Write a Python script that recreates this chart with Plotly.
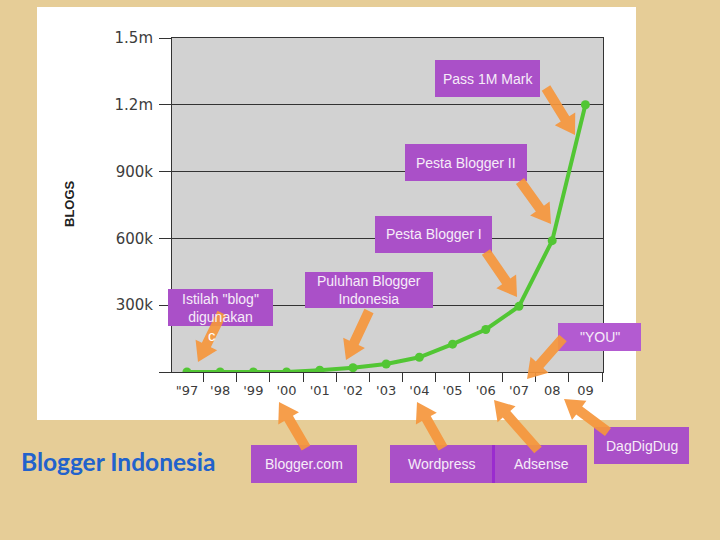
import math
import plotly.graph_objects as go

# ---------------- data ----------------
years = ["1997", "1998", "1999", "2000", "2001", "2002", "2003",
         "2004", "2005", "2006", "2007", "2008", "2009"]
year_labels = ['"97', "'98", "'99", "'00", "'01", "'02", "'03",
               "'04", "'05", "'06", "'07", "08", "09"]
blogs = [0, 0, 0, 0, 8000, 19000, 36000, 66000, 125000, 191000,
         295000, 590000, 1200000]
y_ticks = [0, 300000, 600000, 900000, 1200000, 1500000]
y_tick_labels = ["", "300k", "600k", "900k", "1.2m", "1.5m"]

# ---------------- layout geometry (pixels) ----------------
W, H = 720, 540
L, R, T, B = 172, 603, 38, 372  # plot area


def px(x):
    return (x - L) / (R - L)


def py(y):
    return (B - y) / (B - T)


BEIGE = "#e6cd97"
PURPLE = "#aa50c8"
ORANGE = "#f5963c"
GREEN = "#52c634"
TXT = "#f6ecf8"
AXTXT = "#3c3c3c"

fig = go.Figure()
fig.add_trace(go.Scatter(
    x=years, y=blogs, mode="lines+markers",
    line=dict(color=GREEN, width=4),
    marker=dict(color=GREEN, size=9),
    hoverinfo="skip", showlegend=False,
))

shapes = []
# white panel and gray plot background
shapes.append(dict(type="rect", xref="paper", yref="paper", layer="below",
                   x0=px(37), x1=px(636), y0=py(420), y1=py(7),
                   fillcolor="white", line=dict(width=0)))
shapes.append(dict(type="rect", xref="paper", yref="paper", layer="below",
                   x0=0, x1=1, y0=0, y1=1,
                   fillcolor="#d2d2d2", line=dict(width=0)))

# label boxes: (text, x0, x1, y0, y1, color, text_y)
boxes = [
    ("Pass 1M Mark", 435, 540, 60, 97, PURPLE, None),
    ("Pesta Blogger II", 405, 527, 144, 181, PURPLE, None),
    ("Pesta Blogger I", 375, 492, 216, 253, PURPLE, None),
    ("Puluhan Blogger<br>Indonesia", 305, 433, 272, 308, PURPLE, 290),
    ("Istilah \"blog\"<br>digunakan", 168, 273, 289, 326, PURPLE, 308),
    ("\"YOU\"", 558, 641, 323, 351, "#b35bd1", None),
    ("Blogger.com", 251, 357, 445, 483, PURPLE, None),
    ("Wordpress", 390, 492, 445, 483, PURPLE, None),
    ("Adsense", 495, 587, 445, 483, PURPLE, None),
    ("DagDigDug", 594, 689, 427, 464, PURPLE, None),
]
for text, x0, x1, y0, y1, col, ty in boxes:
    shapes.append(dict(type="rect", xref="paper", yref="paper", layer="above",
                       x0=px(x0), x1=px(x1), y0=py(y1), y1=py(y0),
                       fillcolor=col, line=dict(width=0)))
# divider between Wordpress and Adsense
shapes.append(dict(type="rect", xref="paper", yref="paper", layer="above",
                   x0=px(492), x1=px(495), y0=py(483), y1=py(445),
                   fillcolor="#9a2ccf", line=dict(width=0)))

# arrows: (tail, tip)
arrows = [
    ((546, 88), (575, 135)),
    ((520, 181), (551, 224)),
    ((486, 252), (517, 297)),
    ((369, 311), (346, 360)),
    ((222, 313), (198, 362)),
    ((563, 338), (527, 379)),
    ((306, 448), (279, 402)),
    ((443, 448), (417, 402)),
    ((538, 450), (494, 400)),
    ((608, 432), (564, 399)),
]


def arrow_path(tail, tip, sw=10, hw=24, hl=19):
    tx, ty = tail
    hx, hy = tip
    dx, dy = hx - tx, hy - ty
    ln = math.hypot(dx, dy)
    ux, uy = dx / ln, dy / ln
    nx, ny = -uy, ux
    bx, by = hx - ux * hl, hy - uy * hl
    pts = [
        (tx + nx * sw / 2, ty + ny * sw / 2),
        (bx + nx * sw / 2, by + ny * sw / 2),
        (bx + nx * hw / 2, by + ny * hw / 2),
        (hx, hy),
        (bx - nx * hw / 2, by - ny * hw / 2),
        (bx - nx * sw / 2, by - ny * sw / 2),
        (tx - nx * sw / 2, ty - ny * sw / 2),
    ]
    return "M " + " L ".join(f"{px(x):.5f},{py(y):.5f}" for x, y in pts) + " Z"


for tail, tip in arrows:
    shapes.append(dict(type="path", xref="paper", yref="paper", layer="above",
                       path=arrow_path(tail, tip), fillcolor=ORANGE,
                       opacity=0.92, line=dict(width=0)))

annotations = []
for text, x0, x1, y0, y1, col, ty in boxes:
    cy = ty if ty is not None else (y0 + y1) / 2
    annotations.append(dict(
        text=text, xref="paper", yref="paper",
        x=px((x0 + x1) / 2), y=py(cy), xanchor="center", yanchor="middle",
        showarrow=False,
        font=dict(family="Liberation Sans, Arial, sans-serif", size=14, color=TXT),
    ))
annotations.append(dict(
    text="c", xref="paper", yref="paper", x=px(212), y=py(335),
    xanchor="center", yanchor="middle", showarrow=False,
    font=dict(family="Liberation Sans, Arial, sans-serif", size=15, color="white"),
))
annotations.append(dict(
    text="<b>BLOGS</b>", xref="paper", yref="paper", x=px(69), y=py(204),
    xanchor="center", yanchor="middle", showarrow=False, textangle=-90,
    font=dict(family="Liberation Sans, Arial, sans-serif", size=13, color="#222"),
))
annotations.append(dict(
    text="<b>Blogger Indonesia</b>", xref="paper", yref="paper",
    x=px(19), y=py(461), xanchor="left", yanchor="middle", showarrow=False,
    font=dict(family="Lato, sans-serif", size=24.5, color="#2262cc"),
))

fig.update_layout(
    width=W, height=H,
    margin=dict(l=L, r=W - R, t=T, b=H - B, pad=0),
    paper_bgcolor=BEIGE,
    plot_bgcolor="rgba(0,0,0,0)",
    shapes=shapes,
    annotations=annotations,
    showlegend=False,
    xaxis=dict(
        type="category", range=[-0.45, 12.53],
        tickvals=years, ticktext=year_labels, tickson="boundaries",
        ticks="outside", ticklen=9, tickcolor="#333", tickwidth=1,
        ticklabelstandoff=6,
        showgrid=False, zeroline=False,
        showline=True, mirror=True, linecolor="#333", linewidth=1,
        tickfont=dict(family="DejaVu Sans, sans-serif", size=13, color=AXTXT),
    ),
    yaxis=dict(
        range=[0, 1500000], tickvals=y_ticks, ticktext=y_tick_labels,
        ticks="outside", ticklen=12, tickcolor="#333", tickwidth=1,
        ticklabelstandoff=3,
        showgrid=True, gridcolor="#333", gridwidth=1, zeroline=False,
        showline=True, mirror=True, linecolor="#333", linewidth=1,
        tickfont=dict(family="DejaVu Sans, sans-serif", size=15, color=AXTXT),
    ),
)

fig.write_html("out.html")
